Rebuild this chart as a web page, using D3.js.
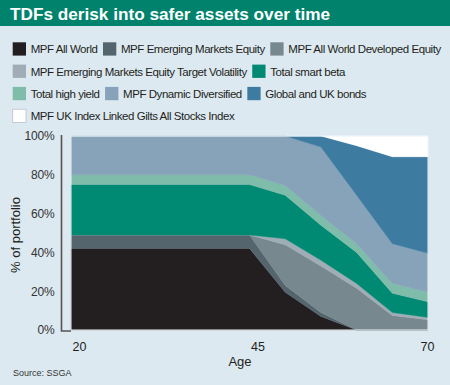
<!DOCTYPE html>
<html><head><meta charset="utf-8">
<script src="https://cdn.jsdelivr.net/npm/d3@7/dist/d3.min.js"></script>
<style>body{margin:0;background:#dde9f1}svg{display:block}</style>
</head><body>
<svg id="chart" width="450" height="385"></svg>
<script>
// ---- data ----
const ages = [20, 45, 50, 55, 60, 65, 70];
const seriesNames = [
  "MPF All World", "MPF Emerging Markets Equity", "MPF All World Developed Equity",
  "MPF Emerging Markets Equity Target Volatility", "Total smart beta",
  "Total high yield", "MPF Dynamic Diversified", "Global and UK bonds",
  "MPF UK Index Linked Gilts All Stocks Index"
];
const mpfAllWorld       = [42, 42, 19.5, 7, 0, 0, 0];
const mpfEmEquity       = [7, 7, 3.5, 2, 0, 0, 0];
const mpfAwDeveloped    = [0, 0, 21, 24, 21.5, 7.5, 5.3];
const mpfEmTargetVol    = [0, 0, 3, 3, 2.5, 1.5, 1.2];
const totalSmartBeta    = [26, 26, 22.5, 18, 16, 10, 8];
const totalHighYield    = [5, 5, 5, 5, 4.5, 5, 5];
const mpfDynamicDiv     = [20, 20, 25.5, 35.3, 25, 20.5, 20];
const globalUkBonds     = [0, 0, 0, 5.7, 25.5, 44.8, 49.8];
const ukIndexLinkedGilts= [0, 0, 0, 0, 5, 10.7, 10.7];
const seriesValues = [mpfAllWorld, mpfEmEquity, mpfAwDeveloped, mpfEmTargetVol,
  totalSmartBeta, totalHighYield, mpfDynamicDiv, globalUkBonds, ukIndexLinkedGilts];
const colors = ["#231f20", "#55656e", "#78888f", "#a0adb6", "#008a73",
  "#80bcaa", "#87a3b9", "#3d7ba1", "#ffffff"];
const yTicks = [0, 20, 40, 60, 80, 100];
const xTicks = [20, 45, 70];
const legendRows = [3, 2, 3, 1];

// ---- chart ----
const svg = d3.select("#chart");
const font = "'Liberation Sans', Arial, sans-serif";
svg.append("rect").attr("width", 450).attr("height", 385).attr("fill", "#dde9f1");
svg.append("rect").attr("width", 450).attr("height", 26).attr("fill", "#00826c");
svg.append("text").attr("x", 10).attr("y", 19.5).attr("fill", "#fff")
  .attr("font-family", font).attr("font-weight", "bold").attr("font-size", 17.2)
  .text("TDFs derisk into safer assets over time");

// legend
let idx = 0;
const legend = svg.append("g").attr("font-family", font).attr("font-size", 11.5)
  .attr("letter-spacing", "-0.45");
legendRows.forEach((n, r) => {
  let cx = 12.7;
  const top = 42.3 + r * 22.3;
  for (let k = 0; k < n; k++, idx++) {
    legend.append("rect").attr("x", cx).attr("y", top).attr("width", 13.3).attr("height", 13.3)
      .attr("fill", colors[idx])
      .attr("stroke", idx === 8 ? "#b8c2c8" : "none").attr("stroke-width", 0.8);
    const t = legend.append("text").attr("x", cx + 18).attr("y", top + 11)
      .attr("fill", "#231f20").text(seriesNames[idx]);
    cx = cx + 18 + t.node().getComputedTextLength() + 5.5;
  }
});

const x = d3.scaleLinear().domain([20, 70]).range([71, 428]);
const y = d3.scaleLinear().domain([0, 100]).range([330, 136]);

const table = ages.map((a, i) => {
  const row = { age: a };
  seriesNames.forEach((s, j) => row[s] = seriesValues[j][i]);
  return row;
});
const stacked = d3.stack().keys(seriesNames)(table);
const area = d3.area().x(d => x(d.data.age)).y0(d => y(d[0])).y1(d => y(d[1]));

svg.append("g").selectAll("path").data(stacked).join("path")
  .attr("d", area).attr("fill", (d, i) => colors[i])
  .attr("stroke", (d, i) => colors[i]).attr("stroke-width", 0.4);

svg.append("rect").attr("x", x(20)).attr("y", y(100))
  .attr("width", x(70) - x(20)).attr("height", y(0) - y(100))
  .attr("fill", "none").attr("stroke", "#eef4f8").attr("stroke-width", 1);

// y axis
const yAxis = d3.axisLeft(y).tickValues(yTicks).tickSize(0).tickPadding(7)
  .tickFormat(d => d + "%");
const yg = svg.append("g").attr("transform", "translate(61.5,0)").call(yAxis);
yg.select(".domain").remove();
yg.selectAll("text").attr("font-family", font).attr("font-size", 12)
  .attr("fill", "#333").attr("letter-spacing", "-0.2");
svg.append("path")
  .attr("d", `M61.5,${y(100) - 1}V${y(0) + 1}H${x(20)}`)
  .attr("fill", "none").attr("stroke", "#555").attr("stroke-width", 1.6);

svg.append("text").attr("transform", `translate(19.5,${(y(0) + y(100)) / 2 + 2}) rotate(-90)`)
  .attr("text-anchor", "middle").attr("font-family", font).attr("font-size", 13)
  .attr("fill", "#231f20").text("% of portfolio");

// x axis
const xAxis = d3.axisBottom(x).tickValues(xTicks).tickSize(0).tickPadding(0);
const xg = svg.append("g").attr("transform", "translate(0,342)").call(xAxis);
xg.select(".domain").remove();
xg.selectAll("text").attr("font-family", font).attr("font-size", 12.5).attr("fill", "#231f20")
  .attr("text-anchor", (d, i, n) => i === n.length - 1 ? "end" : "start")
  .attr("dx", (d, i, n) => i === n.length - 1 ? 6 : 1);

svg.append("text").attr("x", 240).attr("y", 366).attr("text-anchor", "middle")
  .attr("font-family", font).attr("font-size", 13).attr("fill", "#231f20").text("Age");

svg.append("text").attr("x", 13).attr("y", 376).attr("font-family", font)
  .attr("font-size", 9).attr("fill", "#333").text("Source: SSGA");
</script>
</body></html>
